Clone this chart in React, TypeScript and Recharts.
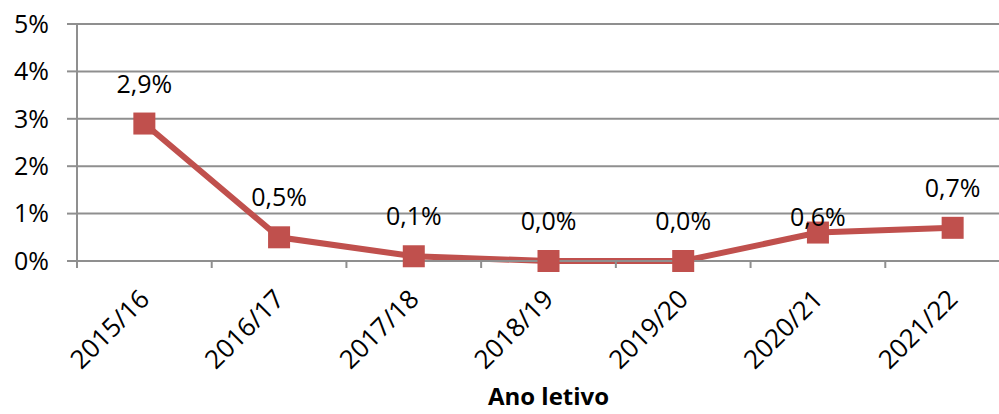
import { LineChart, Line, XAxis, YAxis, CartesianGrid, LabelList } from 'recharts';

const anos = ['2015/16', '2016/17', '2017/18', '2018/19', '2019/20', '2020/21', '2021/22'];
const taxa = [2.9, 0.5, 0.1, 0.0, 0.0, 0.6, 0.7];
const yTicks = [0, 1, 2, 3, 4, 5];

const data = anos.map((ano, i) => ({ ano, taxa: taxa[i] }));

const FONT = '"Open Sans", sans-serif';
const RED = '#C0504D';
const GRID = '#8f8f8f';
const CHART_W = 1030;
const MARGIN = { top: 24, right: 10, bottom: 0, left: 17 };
const Y_W = 60;
const BAND = (CHART_W - MARGIN.left - MARGIN.right - Y_W) / anos.length;

const fmt = (v: number) => v.toFixed(1).replace('.', ',') + '%';

function XTick(props: any) {
  const { x, y, payload } = props;
  const axisY = y - 9;
  const lx = x - BAND / 2;
  const ty = axisY + 33;
  return (
    <g>
      <line x1={lx} y1={axisY} x2={lx} y2={axisY + 7} stroke={GRID} strokeWidth={2} />
      <text
        x={x}
        y={ty}
        transform={`rotate(-45 ${x} ${ty})`}
        textAnchor="end"
        dy="0.36em"
        fontFamily={FONT}
        fontSize={26}
        fill="#000"
      >
        {payload.value}
      </text>
    </g>
  );
}

function Square(props: any) {
  const { cx, cy } = props;
  if (cx == null || cy == null) return null;
  return <rect x={cx - 11} y={cy - 11} width={22} height={22} fill={RED} />;
}

function PointLabel(props: any) {
  const { x, y, value, index } = props;
  // the 2020/21 label sits closer to its point in the original
  const off = index === 5 ? 16 : 40;
  return (
    <text x={x} y={y - off} textAnchor="middle" dy="0.36em" fontFamily={FONT} fontSize={25} fill="#000">
      {fmt(value)}
    </text>
  );
}

export default function App() {
  return (
    <div style={{ position: 'absolute', left: 0, top: 0, width: 999, height: 414, overflow: 'hidden', background: '#fff' }}>
      <LineChart width={CHART_W} height={414} data={data} margin={MARGIN}>
        <CartesianGrid vertical={false} stroke={GRID} strokeWidth={2} />
        <XAxis
          dataKey="ano"
          height={153}
          padding={{ left: BAND / 2, right: BAND / 2 }}
          axisLine={{ stroke: GRID, strokeWidth: 2 }}
          tickLine={false}
          tickSize={7}
          tickMargin={2}
          tick={<XTick />}
          interval={0}
          label={{ value: 'Ano letivo', position: 'insideBottom', offset: 9, fontFamily: FONT, fontSize: 24, fontWeight: 'bold', fill: '#000' }}
        />
        <YAxis
          width={Y_W}
          domain={[0, 5]}
          ticks={yTicks}
          tickFormatter={(v: number) => `${v}%`}
          axisLine={{ stroke: GRID, strokeWidth: 2 }}
          tickLine={{ stroke: GRID, strokeWidth: 2 }}
          tickSize={10}
          tickMargin={18}
          tick={{ fontFamily: FONT, fontSize: 25, fill: '#000' }}
        />
        <Line
          type="linear"
          dataKey="taxa"
          stroke={RED}
          strokeWidth={6}
          dot={<Square />}
          activeDot={false}
          isAnimationActive={false}
        >
          <LabelList dataKey="taxa" content={<PointLabel />} />
        </Line>
      </LineChart>
    </div>
  );
}
